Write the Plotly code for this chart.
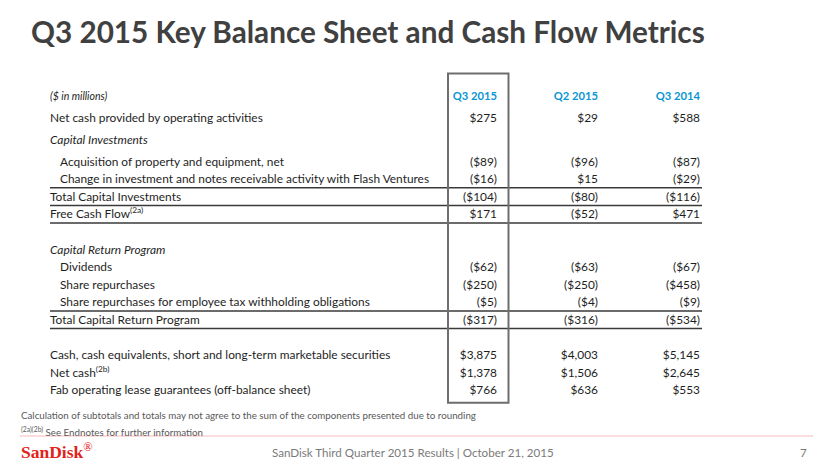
import plotly.graph_objects as go

# ---------------- data ----------------
title_text = "Q3 2015 Key Balance Sheet and Cash Flow Metrics"
unit_label = "($ in millions)"
periods = ["Q3 2015", "Q2 2015", "Q3 2014"]
row_labels = [
    "Net cash provided by operating activities",
    "Capital Investments",
    "Acquisition of property and equipment, net",
    "Change in investment and notes receivable activity with Flash Ventures",
    "Total Capital Investments",
    "Free Cash Flow<sup>(2a)</sup>",
    "",
    "Capital Return Program",
    "Dividends",
    "Share repurchases",
    "Share repurchases for employee tax withholding obligations",
    "Total Capital Return Program",
    "",
    "Cash, cash equivalents, short and long-term marketable securities",
    "Net cash<sup>(2b)</sup>",
    "Fab operating lease guarantees (off-balance sheet)",
]
q3_2015 = [275, None, -89, -16, -104, 171, None, None, -62, -250, -5, -317, None, 3875, 1378, 766]
q2_2015 = [29, None, -96, 15, -80, -52, None, None, -63, -250, -4, -316, None, 4003, 1506, 636]
q3_2014 = [588, None, -87, -29, -116, 471, None, None, -67, -458, -9, -534, None, 5145, 2645, 553]
footnote_1 = "Calculation of subtotals and totals may not agree to the sum of the components presented due to rounding"
footnote_2 = "<sup>(2a)(2b)</sup> See Endnotes for further information"
footer_text = "SanDisk Third Quarter 2015 Results | October 21, 2015"
page_number = "7"
logo_text = "SanDisk"

# ---------------- styling / layout ----------------
W, H = 830, 467
OFF = 8  # default page body margin; axes are offset so data units equal page pixels
FONT = "Lato, Open Sans, sans-serif"
TEXT = "#1e1e1e"
BLUE = "#0a95d3"

italic_rows = {1, 7}
indent_rows = {2, 3, 8, 9, 10}
rule_below = {3, 4, 5, 10, 11}

header_y = 97.3
first_gap = 21.8
gap = 17.6
row_y = []
y = header_y
for i in range(len(row_labels)):
    y += first_gap if i < 3 else gap
    row_y.append(y)

col_right = [497, 598, 700]
label_x = 50
indent_x = 60
LABEL_SIZE = 11.9
VALUE_SIZE = 11.9


def fmt(v):
    if v is None:
        return ""
    if v < 0:
        return f"(${abs(v):,})"
    return f"${v:,}"


def style_label(i, s):
    return f"<i>{s}</i>" if i in italic_rows and s else s


fig = go.Figure()

# row labels
fig.add_trace(go.Scatter(
    x=[indent_x if i in indent_rows else label_x for i in range(len(row_labels))],
    y=row_y,
    text=[style_label(i, s) for i, s in enumerate(row_labels)],
    mode="text", textposition="middle right",
    textfont=dict(family=FONT, size=LABEL_SIZE, color=TEXT),
    hoverinfo="skip", showlegend=False,
))

# unit label
fig.add_trace(go.Scatter(
    x=[label_x], y=[header_y], text=[f"<i>{unit_label}</i>"],
    mode="text", textposition="middle right",
    textfont=dict(family=FONT, size=10.5, color=TEXT),
    hoverinfo="skip", showlegend=False,
))

# period headers
fig.add_trace(go.Scatter(
    x=col_right, y=[header_y] * len(periods), text=periods,
    mode="text", textposition="middle left",
    textfont=dict(family=FONT, size=11.2, color=BLUE, weight="bold"),
    hoverinfo="skip", showlegend=False,
))

# value columns
for xr, vals in zip(col_right, [q3_2015, q2_2015, q3_2014]):
    fig.add_trace(go.Scatter(
        x=[xr] * len(vals), y=row_y, text=[fmt(v) for v in vals],
        mode="text", textposition="middle left",
        textfont=dict(family=FONT, size=VALUE_SIZE, color=TEXT),
        hoverinfo="skip", showlegend=False,
    ))

shapes = []
for i in sorted(rule_below):
    yy = row_y[i] + 7.5
    shapes.append(dict(type="line", xref="x", yref="y", x0=50, x1=702, y0=yy, y1=yy,
                       line=dict(color="#3a3a3a", width=1.5)))
# highlight box around current quarter
shapes.append(dict(type="rect", xref="x", yref="y", x0=448, x1=508.5,
                   y0=header_y - 23.8, y1=row_y[-1] + 11.3,
                   line=dict(color="#6e6e6e", width=2), fillcolor="rgba(0,0,0,0)"))
# pink footer rule
shapes.append(dict(type="line", xref="x", yref="y", x0=20, x1=813, y0=436, y1=436,
                   line=dict(color="#f8d0d0", width=1.5)))

annotations = [
    dict(x=29, y=31, xref="x", yref="y", text=f"<b>{title_text}</b>", showarrow=False,
         xanchor="left", yanchor="middle", font=dict(family=FONT, size=29.7, color="#404040")),
    dict(x=19, y=415, xref="x", yref="y", text=footnote_1, showarrow=False,
         xanchor="left", yanchor="middle", font=dict(family=FONT, size=9.75, color="#595959")),
    dict(x=19, y=431, xref="x", yref="y", text=footnote_2, showarrow=False,
         xanchor="left", yanchor="middle", font=dict(family=FONT, size=9.75, color="#595959")),
    dict(x=19, y=451, xref="x", yref="y", text=f"<b>{logo_text}</b><sup>®</sup>", showarrow=False,
         xanchor="left", yanchor="middle",
         font=dict(family="Liberation Serif, DejaVu Serif, serif", size=17.5, color="#e2231a")),
    dict(x=413, y=452, xref="x", yref="y", text=footer_text, showarrow=False,
         xanchor="center", yanchor="middle", font=dict(family=FONT, size=11.6, color="#7a7a7a")),
    dict(x=809, y=452, xref="x", yref="y", text=page_number, showarrow=False,
         xanchor="right", yanchor="middle", font=dict(family=FONT, size=11.6, color="#7a7a7a")),
]

fig.update_layout(
    width=W - OFF, height=H - OFF, autosize=False,
    margin=dict(l=0, r=0, t=0, b=0),
    paper_bgcolor="white", plot_bgcolor="white",
    xaxis=dict(range=[OFF, W], visible=False, fixedrange=True),
    yaxis=dict(range=[H, OFF], visible=False, fixedrange=True),
    shapes=shapes, annotations=annotations,
    showlegend=False,
)

fig.write_html("out.html")
